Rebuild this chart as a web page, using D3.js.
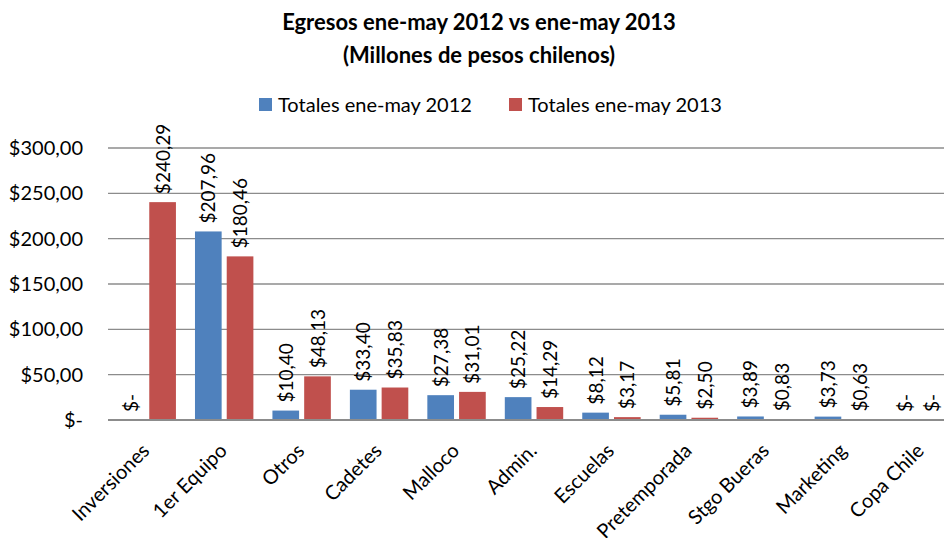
<!DOCTYPE html>
<html><head><meta charset="utf-8">
<script src="https://cdn.jsdelivr.net/npm/d3@7"></script>
<style>body{margin:0;background:#fff;}svg{display:block;font-family:Lato,"Open Sans",sans-serif;}</style>
</head><body><svg id="c" width="944" height="538"></svg>
<script>
const categories = ["Inversiones","1er Equipo","Otros","Cadetes","Malloco","Admin.","Escuelas","Pretemporada","Stgo Bueras","Marketing","Copa Chile"];
const values2012 = [0,207.96,10.40,33.40,27.38,25.22,8.12,5.81,3.89,3.73,0];
const values2013 = [240.29,180.46,48.13,35.83,31.01,14.29,3.17,2.50,0.83,0.63,0];
const seriesNames = ["Totales ene-may 2012","Totales ene-may 2013"];
const colors = ["#4F81BD","#C0504D"];
const yTicks = [0,50,100,150,200,250,300];

const svg = d3.select("#c");
const fmt = v => v === 0 ? "$-" : "$" + d3.format(".2f")(v).replace(".", ",");

const x = d3.scaleBand().domain(categories).range([108, 960]).paddingInner(0).paddingOuter(0);
const y = d3.scaleLinear().domain([0,300]).range([420,148]);
const inner = d3.scaleBand().domain([0,1]).range([0, x.bandwidth()]).paddingInner(0.16).paddingOuter(0.3);

// title
svg.append("text").attr("x",479).attr("y",30).attr("text-anchor","middle")
  .attr("font-weight","bold").attr("font-size",22).text("Egresos ene-may 2012 vs ene-may 2013");
svg.append("text").attr("x",479).attr("y",63).attr("text-anchor","middle")
  .attr("font-weight","bold").attr("font-size",22).text("(Millones de pesos chilenos)");

// legend
const leg = [{x:259},{x:509}];
seriesNames.forEach((n,i)=>{
  svg.append("rect").attr("x",leg[i].x).attr("y",98).attr("width",13).attr("height",13).attr("fill",colors[i]);
  svg.append("text").attr("x",leg[i].x+19).attr("y",112).attr("font-size",20).attr("fill","#000").text(n);
});

// grid
const grid = svg.append("g");
yTicks.filter(t=>t>0).forEach(t=>{
  grid.append("line").attr("x1",108).attr("x2",944).attr("y1",y(t)).attr("y2",y(t))
    .attr("stroke","#8c8c8c").attr("stroke-width",1.3);
});

// y axis labels
const yAxis = d3.axisLeft(y).tickValues(yTicks).tickSize(0).tickPadding(25).tickFormat(fmt);
const ya = svg.append("g").attr("transform","translate(108,0)").call(yAxis);
ya.select(".domain").remove();
ya.selectAll("text").attr("font-size",20).attr("font-family","Lato,'Open Sans',sans-serif").attr("fill","#000");

// bars
const series = [values2012, values2013];
series.forEach((vals,si)=>{
  svg.append("g").selectAll("rect").data(vals).join("rect")
    .attr("x",(d,i)=>x(categories[i])+inner(si))
    .attr("width",inner.bandwidth())
    .attr("y",d=>y(d))
    .attr("height",d=>y(0)-y(d))
    .attr("fill",colors[si]);
  svg.append("g").selectAll("text").data(vals).join("text")
    .attr("transform",(d,i)=>`translate(${Math.min(x(categories[i])+inner(si)+inner.bandwidth()/2+7, 939)},${y(d)-8}) rotate(-90)`)
    .attr("font-size",19).attr("fill","#000")
    .text(d=>fmt(d));
});

// x axis line
svg.append("line").attr("x1",108).attr("x2",944).attr("y1",y(0)).attr("y2",y(0))
  .attr("stroke","#8c8c8c").attr("stroke-width",2.2);

// x labels
const xAxis = d3.axisBottom(x).tickSize(0).tickPadding(0);
const xa = svg.append("g").attr("transform",`translate(0,${y(0)})`).call(xAxis);
xa.select(".domain").remove();
xa.selectAll("text").attr("font-size",20).attr("font-family","Lato,'Open Sans',sans-serif").attr("fill","#000")
  .attr("text-anchor","end").attr("dy",0).attr("y",0)
  .attr("transform","translate(4,32) rotate(-45)");
</script>
</body></html>
